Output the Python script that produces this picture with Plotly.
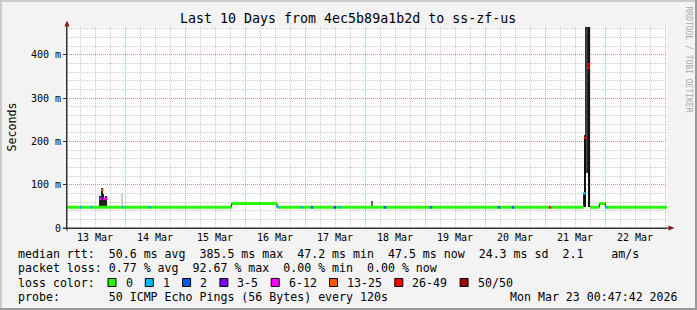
import plotly.graph_objects as go

# ---------------- data ----------------
START = "2026-03-13 00:47:42"
END = "2026-03-23 00:47:42"
Y_MAX = 464

# median rtt (ms): value held from each change point to the next (None = median not on baseline)
med_t = ["2026-03-13 00:47:42", "2026-03-15 18:40", "2026-03-16 12:47", "2026-03-21 15:35",
         "2026-03-21 17:59", "2026-03-21 21:43", "2026-03-22 00:07", "2026-03-23 00:47:42"]
med_v = [47.8, 56.8, 47.8, None, 47.8, 56.6, 47.8, 47.8]

# smoke columns (ms): low / high and shade
smoke_t = ["2026-03-13 14:11", "2026-03-13 14:35", "2026-03-13 14:59", "2026-03-13 15:23",
           "2026-03-13 15:47", "2026-03-13 16:35", "2026-03-13 22:47", "2026-03-16 07:35",
           "2026-03-18 02:40",
           "2026-03-21 15:47", "2026-03-21 16:11", "2026-03-21 16:35", "2026-03-21 16:59",
           "2026-03-21 17:23", "2026-03-21 17:47"]
smoke_lo = [49, 49, 49, 49, 49, 49, 49, 57.5, 49, 48, 48, 215, 128, 128, 48]
smoke_hi = [73, 75, 93, 78, 68, 73, 80, 60, 62, 80, 215, 465, 460, 465, 465]
smoke_c = ["#222222", "#222222", "#222222", "#222222", "#222222", "#222222", "#d0d0d0", "#888888",
           "#666666", "#222222", "#111111", "#2a2a2a", "#4a4a4a", "#2a2a2a", "#111111"]

# median samples with packet loss (ms, loss class index)
loss_t = ["2026-03-13 06:23", "2026-03-13 10:23", "2026-03-13 14:11", "2026-03-13 14:59",
          "2026-03-13 15:47", "2026-03-13 16:35", "2026-03-13 23:11", "2026-03-14 09:59",
          "2026-03-16 13:11", "2026-03-16 22:47", "2026-03-17 02:47", "2026-03-17 11:59",
          "2026-03-17 13:59", "2026-03-18 07:59", "2026-03-19 02:23", "2026-03-20 05:35",
          "2026-03-20 11:11", "2026-03-21 02:00", "2026-03-21 15:47", "2026-03-21 16:11",
          "2026-03-21 17:23", "2026-03-21 17:35", "2026-03-22 00:47"]
loss_v = [47.8, 47.8, 68, 88, 68, 68, 47.8, 47.8, 49, 47.8, 47.8, 47.8, 47.8, 47.8, 47.8,
          47.8, 47.8, 47.8, 80, 208, 370, 378, 47.8]
loss_k = [1, 1, 4, 5, 4, 4, 1, 1, 1, 1, 2, 3, 1, 2, 2, 2, 2, 6, 1, 6, 6, 6, 1]

loss_labels = ["0", "1", "2", "3-5", "6-12", "13-25", "26-49", "50/50"]
loss_colors = ["#26ff00", "#00b8ff", "#0059ff", "#7e00ff", "#ff00ff", "#ff5500", "#ff0000", "#a10000"]

y_tickvals = [0, 100, 200, 300, 400]
y_ticktext = ["0", "100 m", "200 m", "300 m", "400 m"]

title = "Last 10 Days from 4ec5b89a1b2d to ss-zf-us"
stats = [
    "median rtt:  50.6 ms avg  385.5 ms max  47.2 ms min  47.5 ms now  24.3 ms sd  2.1    am/s",
    "packet loss: 0.77 % avg  92.67 % max  0.00 % min  0.00 % now",
    "loss color:",
    "probe:       50 ICMP Echo Pings (56 Bytes) every 120s",
]
stamp = "Mon Mar 23 00:47:42 2026"

# ---------------- layout geometry ----------------
W, H = 697, 310
L, R, T, B = 67, 30, 27, 82
PW, PH = W - L - R, H - T - B
MONO = "DejaVu Sans Mono"
AXIS = "#333333"
ARROW = "#801818"
MGRID = "rgba(255,60,60,0.45)"
GRID = "rgba(140,140,140,0.45)"
DOT = "1px,1px"


def px(x):
    return (x - L) / PW


def py(y):
    return (H - B - y) / PH


def nb(s):
    return s.replace(" ", "\u00a0")


fig = go.Figure()

# black median (with transitions)
fig.add_trace(go.Scatter(x=med_t, y=med_v, mode="lines", line=dict(color="black", width=1, shape="hv"),
                         connectgaps=False, hoverinfo="skip"))

# smoke
fig.add_trace(go.Bar(x=smoke_t, y=[h - l for h, l in zip(smoke_hi, smoke_lo)], base=smoke_lo,
                     width=[1.44e6] * len(smoke_t), marker=dict(color=smoke_c, line=dict(width=0)),
                     hoverinfo="skip"))

# green median segments (loss 0)
gx, gy = [], []
for i in range(len(med_t) - 1):
    if med_v[i] is None:
        continue
    gx += [med_t[i], med_t[i + 1], None]
    gy += [med_v[i], med_v[i], None]
fig.add_trace(go.Scatter(x=gx, y=gy, mode="lines", line=dict(color=loss_colors[0], width=3),
                         hoverinfo="skip"))

# loss-coloured median samples
fig.add_trace(go.Scatter(x=loss_t, y=loss_v, mode="markers",
                         marker=dict(symbol="square", size=2.5,
                                     color=[loss_colors[k] for k in loss_k], line=dict(width=0)),
                         hoverinfo="skip"))

fig.update_layout(
    width=W, height=H, margin=dict(l=L, r=R, t=T, b=B),
    paper_bgcolor="#f3f3f3", plot_bgcolor="#ffffff",
    showlegend=False, barmode="overlay", bargap=0,
    font=dict(family=MONO, color="black"),
)
fig.update_xaxes(
    type="date", range=[START, END], tick0="2026-03-13", dtick=86400000, tickformat="%d %b",
    ticklabelmode="period", showgrid=True, gridcolor=MGRID, griddash=DOT, gridwidth=1,
    minor=dict(tick0="2026-03-13", dtick=21600000, showgrid=True, gridcolor=GRID, griddash=DOT),
    showline=True, linecolor=AXIS, linewidth=1, ticks="", zeroline=False,
    tickfont=dict(family=MONO, size=10, color="black"),
)
fig.update_yaxes(
    range=[0, Y_MAX], tickmode="array", tickvals=y_tickvals, ticktext=y_ticktext,
    showgrid=True, gridcolor=MGRID, griddash=DOT, gridwidth=1,
    minor=dict(tickmode="linear", tick0=0, dtick=20, showgrid=True, gridcolor=GRID, griddash=DOT),
    showline=True, linecolor=AXIS, linewidth=1, ticks="outside", ticklen=3, tickcolor=AXIS,
    zeroline=False, tickfont=dict(family=MONO, size=10, color="black"),
)

shapes = []
# frame shading
shapes.append(dict(type="rect", xref="paper", yref="paper", x0=px(0), x1=px(W), y0=py(H), y1=py(H - 2),
                   fillcolor="#9a9a9a", line=dict(width=0), layer="above"))
shapes.append(dict(type="rect", xref="paper", yref="paper", x0=px(W - 2), x1=px(W), y0=py(H), y1=py(0),
                   fillcolor="#9a9a9a", line=dict(width=0), layer="above"))
shapes.append(dict(type="rect", xref="paper", yref="paper", x0=px(0), x1=px(W - 2), y0=py(2), y1=py(0),
                   fillcolor="#cbcbcb", line=dict(width=0), layer="above"))
shapes.append(dict(type="rect", xref="paper", yref="paper", x0=px(0), x1=px(2), y0=py(H - 2), y1=py(0),
                   fillcolor="#cbcbcb", line=dict(width=0), layer="above"))
# axis extensions + arrows
shapes.append(dict(type="line", xref="paper", yref="paper", x0=px(67), x1=px(67), y0=py(231), y1=py(22),
                   line=dict(color=AXIS, width=1), layer="above"))
shapes.append(dict(type="line", xref="paper", yref="paper", x0=px(63), x1=px(672), y0=py(228), y1=py(228),
                   line=dict(color=AXIS, width=1), layer="above"))
shapes.append(dict(type="path", xref="paper", yref="paper",
                   path=f"M {px(64.5)} {py(26.5)} L {px(69.5)} {py(26.5)} L {px(67)} {py(20.5)} Z",
                   fillcolor=ARROW, line=dict(width=0), layer="above"))
shapes.append(dict(type="path", xref="paper", yref="paper",
                   path=f"M {px(668.5)} {py(225.5)} L {px(668.5)} {py(230.5)} L {px(674.5)} {py(228)} Z",
                   fillcolor=ARROW, line=dict(width=0), layer="above"))

annotations = []
annotations.append(dict(text=nb(title), xref="paper", yref="paper", x=px(348), y=py(18.5),
                        xanchor="center", yanchor="middle", showarrow=False,
                        font=dict(family=MONO, size=13.3, color="black")))
annotations.append(dict(text="Seconds", xref="paper", yref="paper", x=px(11), y=py(127.5),
                        xanchor="center", yanchor="middle", textangle=-90, showarrow=False,
                        font=dict(family=MONO, size=11.6, color="black")))
annotations.append(dict(text=nb("RRDTOOL / TOBI OETIKER"), xref="paper", yref="paper", x=px(688.5), y=py(59),
                        xanchor="center", yanchor="middle", textangle=90, showarrow=False,
                        font=dict(family=MONO, size=8, color="#aaaaaa")))
row_y = [254, 268.3, 282.5, 296.7]
for s, yy in zip(stats, row_y):
    annotations.append(dict(text=nb(s), xref="paper", yref="paper", x=px(16), y=py(yy),
                            xanchor="left", yanchor="middle", showarrow=False,
                            font=dict(family=MONO, size=11.6, color="black")))
annotations.append(dict(text=nb(stamp), xref="paper", yref="paper", x=px(680), y=py(row_y[3]),
                        xanchor="right", yanchor="middle", showarrow=False,
                        font=dict(family=MONO, size=11.6, color="black")))

# loss colour legend
sq_x = [108]
for lab in loss_labels[:-1]:
    sq_x.append(sq_x[-1] + 30.3 + 7 * len(lab))
for lab, col, x0 in zip(loss_labels, loss_colors, sq_x):
    shapes.append(dict(type="rect", xref="paper", yref="paper", x0=px(x0), x1=px(x0 + 8),
                       y0=py(row_y[2] + 4), y1=py(row_y[2] - 4), fillcolor=col,
                       line=dict(color="black", width=1), layer="above"))
    annotations.append(dict(text=nb(lab), xref="paper", yref="paper", x=px(x0 + 15.5), y=py(row_y[2]),
                            xanchor="left", yanchor="middle", showarrow=False,
                            font=dict(family=MONO, size=11.6, color="black")))

fig.update_layout(shapes=shapes, annotations=annotations)
fig.write_html("out.html")
